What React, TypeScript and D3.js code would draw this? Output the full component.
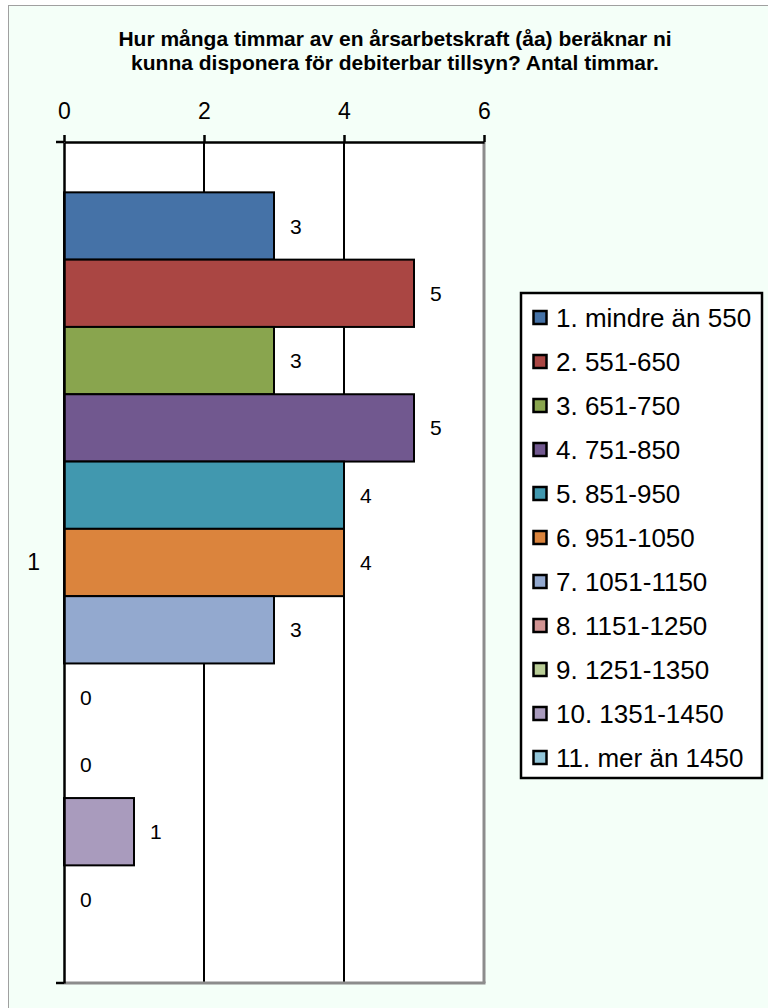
import * as d3 from 'd3';
import { useEffect, useRef } from 'react';

const titleLines = [
    'Hur många timmar av en årsarbetskraft (åa) beräknar ni',
    'kunna disponera för debiterbar tillsyn? Antal timmar.',
];
const categories = ['1'];
const seriesNames = [
    '1. mindre än 550',
    '2. 551-650',
    '3. 651-750',
    '4. 751-850',
    '5. 851-950',
    '6. 951-1050',
    '7. 1051-1150',
    '8. 1151-1250',
    '9. 1251-1350',
    '10. 1351-1450',
    '11. mer än 1450',
];
const seriesValues = [3, 5, 3, 5, 4, 4, 3, 0, 0, 1, 0];
const seriesColors = [
    '#4572A7', '#AA4643', '#89A54E', '#71588F', '#4198AF', '#DB843D',
    '#93A9CF', '#D19392', '#B9CD96', '#A99BBD', '#92C5D8',
];
const xTicks = [0, 2, 4, 6];

export default function App() {
    const ref = useRef<SVGSVGElement | null>(null);

    useEffect(() => {
        const svg = d3.select(ref.current);
        svg.selectAll('*').remove();

        const width = 768;
        const height = 1008;
        const plot = { left: 64, right: 484, top: 142, bottom: 983 };
        const font = 'Arial, "Liberation Sans", sans-serif';

        svg.attr('width', width).attr('height', height);

        // chart area
        svg.append('rect')
            .attr('x', 8.5).attr('y', 5.5)
            .attr('width', width + 20).attr('height', height + 20)
            .attr('fill', '#F4FFF8')
            .attr('stroke', '#A0A0A0')
            .attr('stroke-width', 1);

        svg.append('text')
            .attr('text-anchor', 'middle')
            .attr('font-family', font)
            .attr('font-weight', 'bold')
            .attr('font-size', 21)
            .selectAll('tspan')
            .data(titleLines)
            .enter()
            .append('tspan')
            .attr('x', 395)
            .attr('y', (_, i) => 46 + i * 23.5)
            .text(d => d);

        const x = d3.scaleLinear()
            .domain([0, 6])
            .range([plot.left, plot.right]);

        const y0 = d3.scaleBand()
            .domain(categories)
            .range([plot.top, plot.bottom])
            .paddingInner(0)
            .paddingOuter(0.068);

        const y1 = d3.scaleBand()
            .domain(seriesNames)
            .range([0, y0.bandwidth()]);

        // plot area
        svg.append('rect')
            .attr('x', plot.left).attr('y', plot.top)
            .attr('width', plot.right - plot.left)
            .attr('height', plot.bottom - plot.top)
            .attr('fill', '#fff');

        // gridlines
        svg.append('g')
            .selectAll('line')
            .data(xTicks.filter(t => t > 0))
            .enter()
            .append('line')
            .attr('x1', d => x(d)).attr('x2', d => x(d))
            .attr('y1', plot.top).attr('y2', plot.bottom)
            .attr('stroke', d => (d === 6 ? '#8C8C8C' : '#000'))
            .attr('stroke-width', d => (d === 6 ? 3 : 2));

        // bottom border of plot area
        svg.append('line')
            .attr('x1', plot.left).attr('x2', x(6) + 1.5)
            .attr('y1', plot.bottom).attr('y2', plot.bottom)
            .attr('stroke', '#8C8C8C')
            .attr('stroke-width', 3);

        const rows = seriesNames.map((name, i) => ({
            name,
            value: seriesValues[i],
            color: seriesColors[i],
        }));

        const g = svg.append('g')
            .attr('transform', `translate(0,${y0(categories[0])})`);

        g.selectAll('.bar')
            .data(rows.filter(d => d.value > 0))
            .enter()
            .append('rect')
            .attr('x', x(0))
            .attr('y', d => y1(d.name)!)
            .attr('width', d => x(d.value) - x(0))
            .attr('height', y1.bandwidth())
            .attr('fill', d => d.color)
            .attr('stroke', '#000')
            .attr('stroke-width', 2);

        g.selectAll('.label')
            .data(rows)
            .enter()
            .append('text')
            .attr('x', d => x(d.value) + 16)
            .attr('y', d => y1(d.name)! + y1.bandwidth() / 2)
            .attr('dy', '0.36em')
            .attr('font-family', font)
            .attr('font-size', 21)
            .attr('fill', '#000')
            .text(d => d.value);

        // top value axis
        const topAxis = svg.append('g')
            .attr('transform', `translate(0,${plot.top})`)
            .call(d3.axisTop(x).tickValues(xTicks).tickFormat(d3.format('d'))
                .tickSize(7).tickPadding(16).tickSizeOuter(0));
        topAxis.select('.domain').attr('stroke', '#000').attr('stroke-width', 2.5);
        topAxis.selectAll('.tick line').attr('stroke', '#000').attr('stroke-width', 2.5);
        topAxis.selectAll('.tick text')
            .attr('font-family', font)
            .attr('font-size', 23)
            .attr('fill', '#000');

        // left category axis
        const leftAxis = svg.append('g')
            .attr('transform', `translate(${plot.left},0)`)
            .call(d3.axisLeft(y0).tickSize(0).tickPadding(24));
        leftAxis.select('.domain').attr('stroke', '#000').attr('stroke-width', 2.5);
        leftAxis.selectAll('.tick text')
            .attr('font-family', font)
            .attr('font-size', 23)
            .attr('fill', '#000');
        leftAxis.selectAll('.edge')
            .data(y0.range())
            .enter()
            .append('line')
            .attr('x1', -8).attr('x2', 0)
            .attr('y1', d => d).attr('y2', d => d)
            .attr('stroke', '#000')
            .attr('stroke-width', 2.5);

        // legend
        const legend = svg.append('g').attr('transform', 'translate(521,293)');
        legend.append('rect')
            .attr('width', 241).attr('height', 485)
            .attr('fill', '#fff')
            .attr('stroke', '#000')
            .attr('stroke-width', 2.5);

        const item = legend.selectAll('.item')
            .data(rows)
            .enter()
            .append('g')
            .attr('transform', (_, i) => `translate(12.5,${24.5 + i * 44})`);
        item.append('rect')
            .attr('x', 0).attr('y', -6.5)
            .attr('width', 13).attr('height', 13)
            .attr('fill', d => d.color)
            .attr('stroke', '#000')
            .attr('stroke-width', 2.5);
        item.append('text')
            .attr('x', 22.5)
            .attr('dy', '0.36em')
            .attr('font-family', font)
            .attr('font-size', 26)
            .attr('fill', '#000')
            .text(d => d.name);
    }, []);

    return <svg ref={ref} style={{ position: 'absolute', left: 0, top: 0 }}></svg>;
}
